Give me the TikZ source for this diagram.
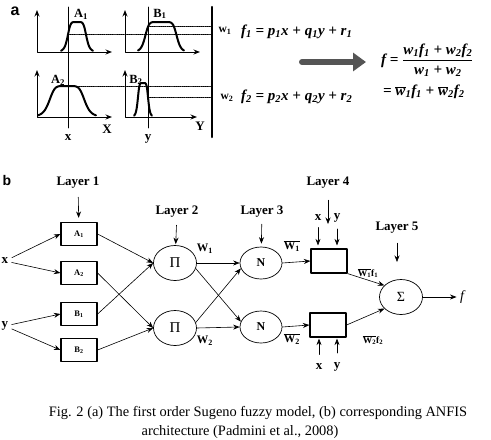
\documentclass[tikz,border=0pt]{standalone}
\usepackage{fontspec}
\setmainfont{Liberation Serif}
\newfontfamily\sflabel{Liberation Sans}
\usetikzlibrary{shapes.geometric,arrows,arrows.meta}
\definecolor{arrowgray}{HTML}{555555}
\begin{document}
\begin{tikzpicture}[x=1pt,y=-1pt,>={Stealth[length=6.5pt,width=5pt]},line join=round,line cap=round,
	box/.style={draw,line width=1.2pt,minimum width=36pt,minimum height=23pt,inner sep=0pt,font=\fontsize{8.5}{9}\selectfont\bfseries},
	neuron/.style={draw,ellipse,line width=0.7pt,minimum width=43pt,minimum height=35pt,inner sep=0pt},
	lay/.style={font=\fontsize{13}{15}\selectfont\bfseries},
	mlab/.style={font=\fontsize{12.5}{14}\selectfont\bfseries},
	wlab/.style={font=\fontsize{11.5}{13}\selectfont\bfseries,inner sep=0pt},
	formula/.style={font=\fontsize{15}{17}\selectfont\bfseries\itshape,inner sep=0pt},
	mf/.style={line width=2pt,smooth,samples=80},
	dots/.style={densely dotted,line width=0.9pt},
	link/.style={->,line width=0.6pt}]
	\useasboundingbox (0,0) rectangle (491,440);
	% (a) Sugeno model
	\node[font=\sflabel\fontsize{16}{18}\selectfont\bfseries] (lbla) at (15,11) {a};
	\foreach \ox/\oy/\h/\ex in {37/52/42/112, 125/52/42/200, 37/117/47/112, 125/117/47/197}
		\draw[<->,line width=1pt] (\ox,\oy-\h)--(\ox,\oy)--(\ex,\oy);
	\draw[mf,domain=61:93] plot(\x,{52-30/(1+(abs(\x-77)/9.5)^6)});
	\draw[mf,domain=138:184] plot(\x,{52-30/(1+(abs(\x-161)/16)^8)});
	\draw[mf,domain=38:96] plot(\x,{117-31/(1+(abs(\x-67)/18)^6)});
	\draw[mf,domain=134:152] plot(\x,{117-34/(1+(abs(\x-143)/5.3)^6)});
	\draw[line width=0.8pt] (68,7)--(68,128) (148,7)--(148,128);
	\draw[dots] (68,34.6)--(212,34.6) (148,26.8)--(212,26.8)
		(68,86.5)--(212,86.5) (148,97)--(212,97);
	\draw[line width=2.5pt] (212,7)--(212,137);
	\node[mlab] (mA1) at (81,14) {A\textsubscript{1}};
	\node[mlab] (mB1) at (160,14) {B\textsubscript{1}};
	\node[mlab] (mA2) at (58,80) {A\textsubscript{2}};
	\node[mlab] (mB2) at (136,80) {B\textsubscript{2}};
	\node[lay] (axX) at (107,129) {X};
	\node[lay] (axY) at (200,126) {Y};
	\node[lay] (inx) at (68,138) {x};
	\node[lay] (iny) at (148,139) {y};
	\node[mlab,font=\fontsize{11.5}{13}\selectfont\bfseries] (w1) at (225,31) {w\textsubscript{1}};
	\node[mlab,font=\fontsize{11.5}{13}\selectfont\bfseries] (w2) at (227,98) {w\textsubscript{2}};
	\node[formula,anchor=west] (f1) at (241,32) {f\textsubscript{1} = p\textsubscript{1}x + q\textsubscript{1}y + r\textsubscript{1}};
	\node[formula,anchor=west] (f2) at (241,97) {f\textsubscript{2} = p\textsubscript{2}x + q\textsubscript{2}y + r\textsubscript{2}};
	\draw[arrowgray,line width=6pt,-{Triangle[length=13pt,width=18pt]}] (302,62)--(366,62);
	\node[formula,anchor=west] (fsum) at (381,60) {$\mbox{f = }\displaystyle\frac{\mbox{w\textsubscript{1}f\textsubscript{1} + w\textsubscript{2}f\textsubscript{2}}}{\mbox{w\textsubscript{1} + w\textsubscript{2}}}$};
	\node[formula,anchor=west] (fbar) at (383,92) {= $\overline{\mbox{w}}$\textsubscript{1}f\textsubscript{1} + $\overline{\mbox{w}}$\textsubscript{2}f\textsubscript{2}};
	% (b) ANFIS
	\node[font=\sflabel\fontsize{14}{16}\selectfont\bfseries] (lblb) at (7,180) {b};
	\node[lay] (x) at (5,261) {x};
	\node[lay] (y) at (5,326) {y};
	\node[box] (A1) at (79,234) {A\textsubscript{1}};
	\node[box] (A2) at (79,273) {A\textsubscript{2}};
	\node[box] (B1) at (79,314) {B\textsubscript{1}};
	\node[box] (B2) at (79,350) {B\textsubscript{2}};
	\node[neuron,font=\fontsize{15}{17}\selectfont] (P1) at (175,263) {Π};
	\node[neuron,font=\fontsize{15}{17}\selectfont] (P2) at (175,328) {Π};
	\node[neuron,minimum width=42pt,minimum height=32pt,font=\fontsize{12}{14}\selectfont\bfseries] (N1) at (261,263) {N};
	\node[neuron,minimum width=42pt,minimum height=32pt,font=\fontsize{12}{14}\selectfont\bfseries] (N2) at (261,327) {N};
	\node[box,minimum height=24pt] (F1) at (329,261) {};
	\node[box,minimum height=24pt] (F2) at (328,325) {};
	\node[neuron,font=\fontsize{14}{16}\selectfont] (S) at (401,297) {Σ};
	\node[font=\fontsize{14}{16}\selectfont\itshape] (f) at (462,297) {f};
	\node[lay] (L1) at (78,183) {Layer 1};
	\node[lay] (L2) at (177,212) {Layer 2};
	\node[lay] (L3) at (262,212) {Layer 3};
	\node[lay] (L4) at (328,183) {Layer 4};
	\node[lay] (L5) at (397,228) {Layer 5};
	\coordinate (L4end) at (328,224);
	\coordinate (L5end) at (397,262);
	\node[lay] (x4) at (318,218) {x};
	\node[lay] (y4) at (337,218) {y};
	\node[lay] (x5) at (319,367) {x};
	\node[lay] (y5) at (337,367) {y};
	\draw[link,shorten <=5pt,shorten >=4pt] (L1)--(A1);
	\draw[link,shorten <=4pt,shorten >=1pt] (L2)--(P1);
	\draw[link,shorten <=3pt,shorten >=3pt] (L3)--(N1);
	\draw[link,shorten <=8pt] (L4)--(L4end);
	\draw[link,shorten <=6pt] (L5)--(L5end);
	\draw[link,shorten <=3pt,shorten >=3pt] (x4)--(x4 |- F1.north);
	\draw[link,shorten <=3pt,shorten >=3pt] (y4)--(y4 |- F1.north);
	\draw[link,shorten <=6pt,shorten >=1pt] (x5)--(x5 |- F2.south);
	\draw[link,shorten <=6pt,shorten >=1pt] (y5)--(y5 |- F2.south);
	\draw[link] (x)--(A1.west);
	\draw[link] (x)--(A2.west);
	\draw[link] (y)--(B1.west);
	\draw[link] (y)--(B2.west);
	\draw[link] (A1.east)--(P1.west);
	\draw[link] (B1.east)--(P1.west);
	\draw[link] (A2.east)--(P2.west);
	\draw[link] (B2.east)--(P2.west);
	\draw[link] (P1.east)--(N1.west);
	\draw[link] (P1.-15)--(N2.165);
	\draw[link] (P2.15)--(N1.195);
	\draw[link] (P2.east)--(N2.west);
	\draw[link] (N1.east)--(F1.west);
	\draw[link] (N2.east)--(F2.west);
	\draw[link] (F1.south east)--(S.145);
	\draw[link] (F2.east)--(S.215);
	\draw[link] (S.east)--(f);
	\node[wlab] (lW1) at (205,249) {W\textsubscript{1}};
	\node[wlab] (lW2) at (205,341) {W\textsubscript{2}};
	\node[wlab] (lWb1) at (292,246) {$\overline{\mbox{W\textsubscript{1}}}$};
	\node[wlab] (lWb2) at (292,339) {$\overline{\mbox{W\textsubscript{2}}}$};
	\node[wlab,font=\fontsize{9.5}{11}\selectfont\bfseries] (lWf1) at (368,273) {$\overline{\mbox{W\textsubscript{1}}}$f\textsubscript{1}};
	\node[wlab,font=\fontsize{9.5}{11}\selectfont\bfseries] (lWf2) at (373,340) {$\overline{\mbox{W\textsubscript{2}}}$f\textsubscript{2}};
	% caption
	\node[font=\fontsize{14.4}{16}\selectfont] (cap1) at (258,413) {Fig. 2 (a) The first order Sugeno fuzzy model, (b) corresponding ANFIS};
	\node[font=\fontsize{14.4}{16}\selectfont] (cap2) at (240,432) {architecture (Padmini et al., 2008)};
\end{tikzpicture}
\end{document}
